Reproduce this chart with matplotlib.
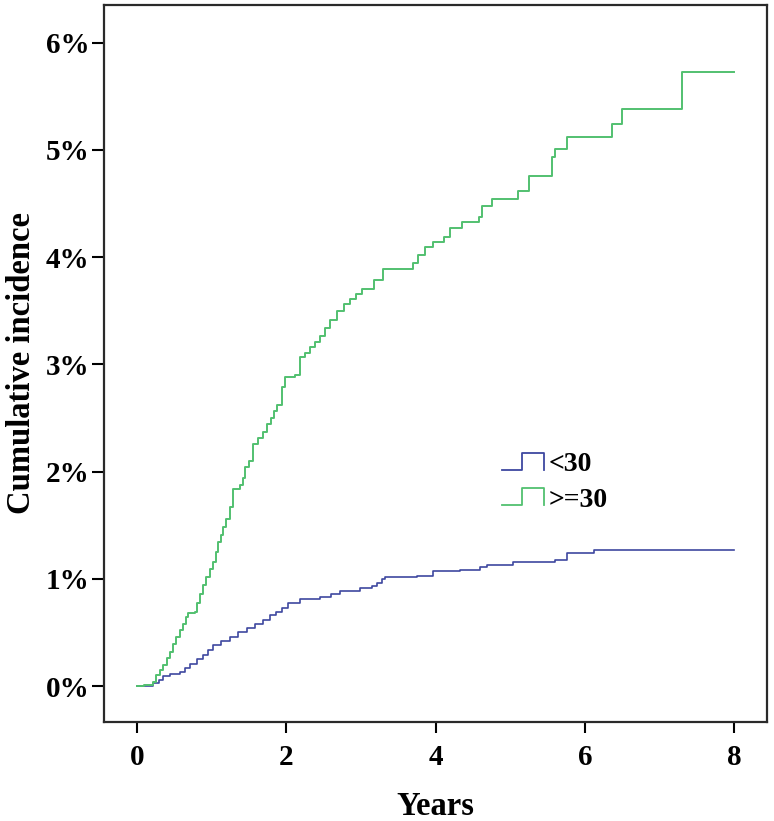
import matplotlib
matplotlib.use("Agg")
import matplotlib.pyplot as plt
from matplotlib.legend_handler import HandlerBase
from matplotlib.lines import Line2D
from matplotlib.ticker import FuncFormatter

plt.rcParams['font.family'] = ['Liberation Serif', 'DejaVu Serif']
plt.rcParams['font.weight'] = 'bold'

# cumulative incidence (%), step points
t_lt30 = [0.0, 0.22, 0.30, 0.35, 0.45, 0.58, 0.65, 0.71, 0.80, 0.89, 0.95, 1.02,
          1.12, 1.25, 1.35, 1.47, 1.58, 1.69, 1.78, 1.87, 1.95, 2.03, 2.18, 2.45,
          2.60, 2.72, 2.99, 3.15, 3.21, 3.28, 3.32, 3.75, 3.97, 4.33, 4.60, 4.69,
          5.04, 5.60, 5.76, 6.12, 8.00]
ci_lt30 = [0.0, 0.03, 0.06, 0.09, 0.11, 0.13, 0.17, 0.21, 0.25, 0.29, 0.34, 0.38,
           0.42, 0.46, 0.50, 0.54, 0.58, 0.62, 0.66, 0.69, 0.73, 0.77, 0.81, 0.83,
           0.86, 0.89, 0.91, 0.93, 0.96, 1.00, 1.02, 1.03, 1.07, 1.08, 1.11, 1.13,
           1.16, 1.18, 1.24, 1.27, 1.27]

t_ge30 = [0.0, 0.10, 0.22, 0.26, 0.31, 0.35, 0.40, 0.44, 0.49, 0.53, 0.58, 0.62,
          0.66, 0.69, 0.78, 0.81, 0.84, 0.89, 0.93, 0.98, 1.02, 1.06, 1.09, 1.13,
          1.16, 1.20, 1.25, 1.29, 1.38, 1.42, 1.45, 1.50, 1.56, 1.62, 1.69, 1.74,
          1.79, 1.83, 1.88, 1.94, 1.98, 2.12, 2.18, 2.25, 2.32, 2.38, 2.45, 2.52,
          2.59, 2.68, 2.77, 2.86, 2.93, 3.01, 3.17, 3.30, 3.70, 3.77, 3.86, 3.97,
          4.11, 4.20, 4.35, 4.58, 4.62, 4.75, 5.11, 5.25, 5.56, 5.60, 5.76, 6.36,
          6.50, 7.30, 8.00]
ci_ge30 = [0.0, 0.01, 0.04, 0.10, 0.15, 0.20, 0.26, 0.32, 0.39, 0.46, 0.52, 0.58,
           0.64, 0.68, 0.69, 0.77, 0.86, 0.94, 1.02, 1.09, 1.16, 1.25, 1.34, 1.41,
           1.48, 1.56, 1.67, 1.84, 1.87, 1.94, 2.04, 2.10, 2.26, 2.31, 2.37, 2.44,
           2.50, 2.56, 2.62, 2.79, 2.88, 2.90, 3.07, 3.11, 3.16, 3.21, 3.26, 3.34,
           3.41, 3.50, 3.56, 3.61, 3.66, 3.70, 3.79, 3.89, 3.94, 4.02, 4.09, 4.14,
           4.19, 4.27, 4.33, 4.37, 4.48, 4.54, 4.62, 4.76, 4.93, 5.01, 5.12, 5.24,
           5.38, 5.73, 5.73]

labels = ['<30', '>=30']
colors = ['#3e48a0', '#52c070']


class StepHandler(HandlerBase):
    # legend key drawn as a little step  _|‾|
    def create_artists(self, legend, orig_handle, xdescent, ydescent,
                       width, height, fontsize, trans):
        fx = [0, 0.48, 0.48, 1, 1]
        fy = [0, 0, 1, 1, 0]
        xs = [f * width - xdescent for f in fx]
        ys = [f * height - ydescent for f in fy]
        ln = Line2D(xs, ys, color=orig_handle.get_color(), lw=1.3)
        ln.set_transform(trans)
        return [ln]


fig = plt.figure(figsize=(7.74, 8.21), dpi=100)
ax = fig.add_axes([0.1344, 0.1206, 0.8566, 0.8733])

l1, = ax.plot(t_lt30, ci_lt30, drawstyle='steps-post', color=colors[0], lw=1.2, label=labels[0])
l2, = ax.plot(t_ge30, ci_ge30, drawstyle='steps-post', color=colors[1], lw=1.4, label=labels[1])

ax.set_xlim(-0.44, 8.44)
ax.set_ylim(-0.335, 6.35)
ax.set_xticks([0, 2, 4, 6, 8])
ax.set_yticks([0, 1, 2, 3, 4, 5, 6])
ax.yaxis.set_major_formatter(FuncFormatter(lambda v, p: '%d%%' % v))

for s in ax.spines.values():
    s.set_linewidth(1.6)
    s.set_color('#2a2a2a')
ax.tick_params(axis='x', direction='out', length=8, width=1.5, pad=8, labelsize=21)
ax.tick_params(axis='y', direction='out', length=9, width=1.5, pad=1.5, labelsize=21)
for lab in ax.get_xticklabels() + ax.get_yticklabels():
    lab.set_fontweight('bold')

ax.set_xlabel('Years', fontsize=23.5, fontweight='bold', labelpad=14)
ax.set_ylabel('Cumulative incidence', fontsize=23.5, fontweight='bold', labelpad=6)

leg = ax.legend(handles=[l1, l2], loc='upper left', bbox_to_anchor=(0.584, 0.392),
                frameon=False, handler_map={Line2D: StepHandler()},
                prop={'family': 'Liberation Serif', 'weight': 'bold', 'size': 20},
                handlelength=1.5, handleheight=0.55, handletextpad=0.15,
                labelspacing=0.38, borderaxespad=0)

fig.savefig('out.png', dpi=100)
